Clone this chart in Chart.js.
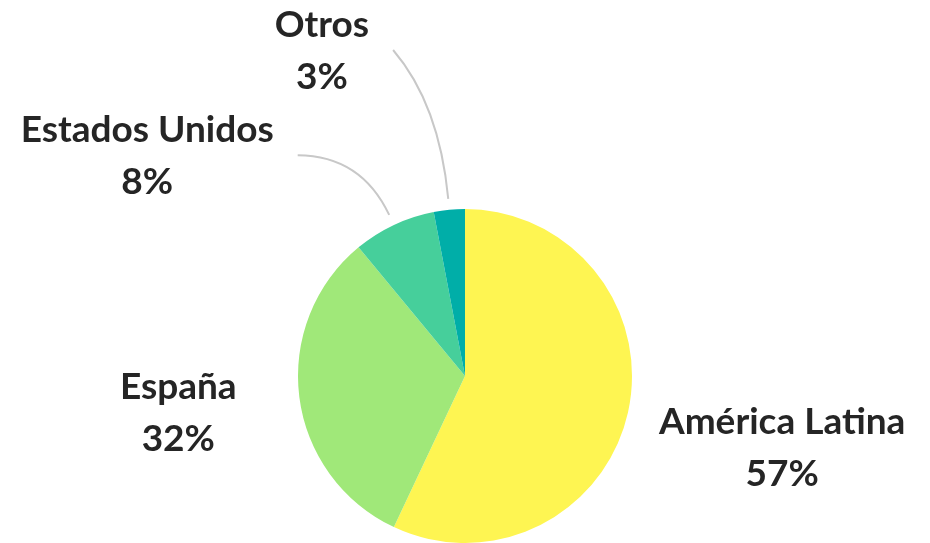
<!DOCTYPE html>
<html>
<head>
<meta charset="utf-8">
<script src="https://cdn.jsdelivr.net/npm/chart.js@4"></script>
<style>
  html, body { margin: 0; padding: 0; background: #fff; }
  #wrap { width: 930px; height: 543px; position: relative; }
</style>
</head>
<body>
<div id="wrap"><canvas id="chart"></canvas></div>
<script>
const regions = ["América Latina", "España", "Estados Unidos", "Otros"];
const shares = [57, 32, 8, 3];
const sliceColors = ["#fef552", "#a0e879", "#46cf9b", "#00aea8"];

// where each label sits: angle (null = middle of slice) and distance from centre
const labelPlaces = [
  { angle: null, dist: 325, leader: false },
  { angle: null, dist: 289, leader: false },
  { angle: -145.2, dist: 387, leader: true },
  { angle: -113.7, dist: 356, leader: true }
];

const pieLabels = {
  id: "pieLabels",
  afterDatasetsDraw(chart) {
    const ctx = chart.ctx;
    const arcs = chart.getDatasetMeta(0).data;
    ctx.save();
    ctx.font = "bold 37px Lato";
    ctx.fillStyle = "#252525";
    ctx.textAlign = "center";
    ctx.textBaseline = "middle";
    arcs.forEach((arc, i) => {
      const mid = (arc.startAngle + arc.endAngle) / 2;
      const place = labelPlaces[i];
      const a = place.angle === null ? mid : place.angle * Math.PI / 180;
      const lx = arc.x + Math.cos(a) * place.dist;
      const ly = arc.y + Math.sin(a) * place.dist;
      ctx.fillText(regions[i], lx, ly - 25);
      ctx.fillText(shares[i] + "%", lx, ly + 27);

      if (place.leader) {
        const w = ctx.measureText(regions[i]).width;
        const sx = lx + w / 2 + 24;
        const sy = ly;
        const er = arc.outerRadius + 11;
        const ex = arc.x + Math.cos(mid) * er;
        const ey = arc.y + Math.sin(mid) * er;
        const d = Math.hypot(ex - sx, ey - sy) * 0.6;
        const cx = ex + Math.cos(mid) * d;
        const cy = ey + Math.sin(mid) * d;
        ctx.beginPath();
        ctx.moveTo(sx, sy);
        ctx.quadraticCurveTo(cx, cy, ex, ey);
        ctx.strokeStyle = "#c8c8c8";
        ctx.lineWidth = 2;
        ctx.stroke();
      }
    });
    ctx.restore();
  }
};

new Chart(document.getElementById("chart"), {
  type: "pie",
  data: {
    labels: regions,
    datasets: [{
      data: shares,
      backgroundColor: sliceColors,
      borderWidth: 0
    }]
  },
  options: {
    responsive: true,
    maintainAspectRatio: false,
    animation: false,
    layout: { padding: { top: 209, bottom: 0, left: 0, right: 0 } },
    plugins: {
      legend: { display: false },
      tooltip: { enabled: false }
    }
  },
  plugins: [pieLabels]
});
</script>
</body>
</html>
